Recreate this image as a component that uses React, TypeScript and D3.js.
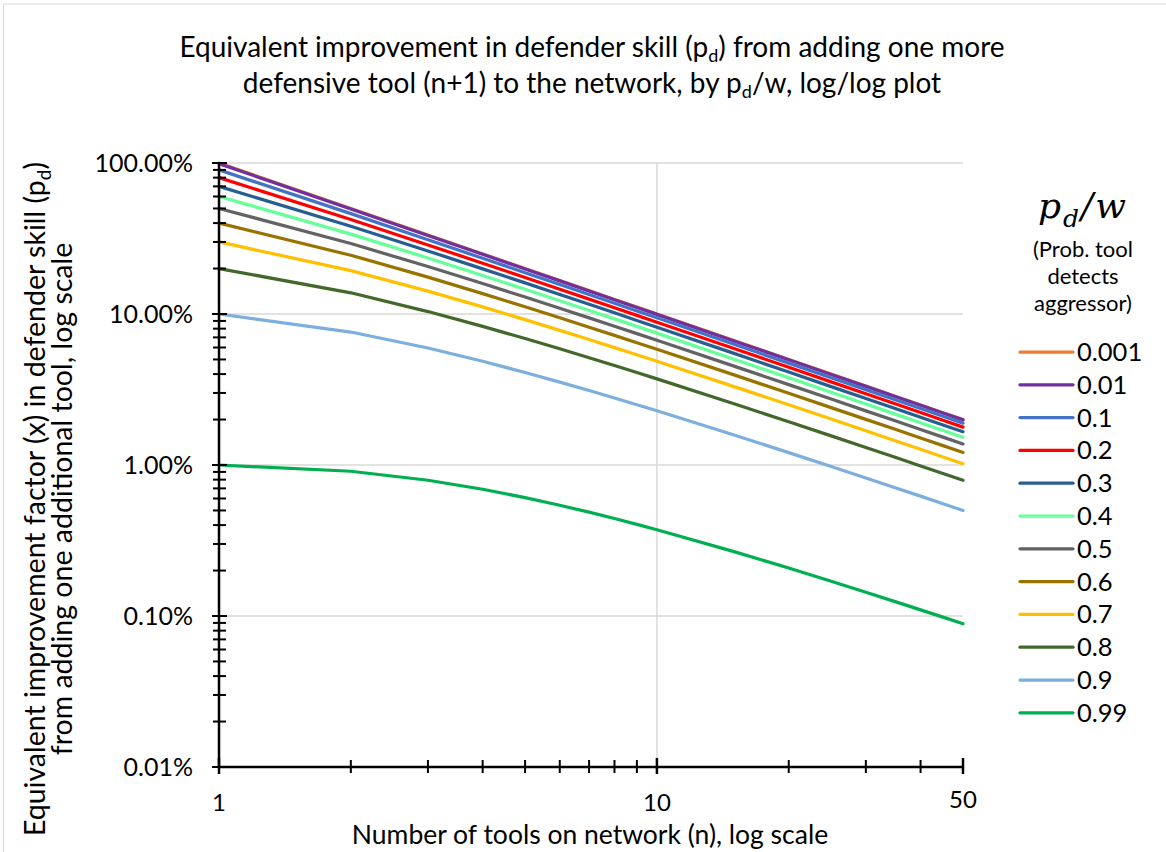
import React from "react";
import * as d3 from "d3";

// tools on network (n)
const nValues = [1, 2, 3, 4, 5, 6, 7, 8, 9, 10, 15, 20, 25, 30, 35, 40, 45, 50];

// p_d/w series, values (fraction, 1 = 100%)
const p0001 = [0.999, 0.4998, 0.3332, 0.2499, 0.1999, 0.1666, 0.1428, 0.1249, 0.1111, 0.09995, 0.0666, 0.04998, 0.03998, 0.03332, 0.02856, 0.02499, 0.02221, 0.01999];
const p001 = [0.99, 0.4962, 0.3311, 0.2484, 0.1988, 0.1657, 0.142, 0.1243, 0.1105, 0.09945, 0.06631, 0.04974, 0.03979, 0.03316, 0.02842, 0.02487, 0.02211, 0.0199];
const p01 = [0.9, 0.4618, 0.3106, 0.234, 0.1877, 0.1567, 0.1345, 0.1178, 0.1048, 0.09433, 0.06299, 0.04729, 0.03785, 0.03155, 0.02705, 0.02367, 0.02105, 0.01894];
const p02 = [0.8, 0.4223, 0.2867, 0.217, 0.1746, 0.146, 0.1255, 0.11, 0.09796, 0.08827, 0.05906, 0.04438, 0.03554, 0.02964, 0.02542, 0.02225, 0.01979, 0.01781];
const p03 = [0.7, 0.3811, 0.2616, 0.1991, 0.1607, 0.1347, 0.1159, 0.1018, 0.09066, 0.08176, 0.05483, 0.04124, 0.03305, 0.02758, 0.02366, 0.02071, 0.01842, 0.01659];
const p04 = [0.6, 0.3381, 0.2349, 0.1798, 0.1457, 0.1224, 0.1056, 0.09279, 0.08277, 0.0747, 0.05022, 0.03783, 0.03034, 0.02532, 0.02173, 0.01903, 0.01693, 0.01525];
const p05 = [0.5, 0.2929, 0.2063, 0.1591, 0.1295, 0.1091, 0.09428, 0.083, 0.07412, 0.06697, 0.04516, 0.03406, 0.02735, 0.02284, 0.01961, 0.01718, 0.01529, 0.01377];
const p06 = [0.4, 0.245, 0.1755, 0.1365, 0.1116, 0.09442, 0.0818, 0.07215, 0.06453, 0.05837, 0.03951, 0.02985, 0.02399, 0.02005, 0.01723, 0.0151, 0.01344, 0.01211];
const p07 = [0.3, 0.1938, 0.1417, 0.1114, 0.09171, 0.07792, 0.06772, 0.05988, 0.05366, 0.04861, 0.03306, 0.02504, 0.02015, 0.01686, 0.01449, 0.01271, 0.01131, 0.0102];
const p08 = [0.2, 0.1382, 0.1038, 0.08282, 0.06881, 0.05882, 0.05135, 0.04556, 0.04094, 0.03717, 0.02544, 0.01933, 0.01559, 0.01306, 0.01124, 0.00986, 0.00878, 0.00792];
const p09 = [0.1, 0.07597, 0.05954, 0.04863, 0.041, 0.03541, 0.03115, 0.02779, 0.02508, 0.02285, 0.01581, 0.01208, 0.00978, 0.00821, 0.00707, 0.00622, 0.00554, 0.005];
const p099 = [0.01, 0.009091, 0.007925, 0.006907, 0.00608, 0.005413, 0.004869, 0.004421, 0.004046, 0.003728, 0.00267, 0.002078, 0.001699, 0.001437, 0.001245, 0.001098, 0.000983, 0.000889];

const seriesNames = ["0.001", "0.01", "0.1", "0.2", "0.3", "0.4", "0.5", "0.6", "0.7", "0.8", "0.9", "0.99"];
const seriesValues = [p0001, p001, p01, p02, p03, p04, p05, p06, p07, p08, p09, p099];
const seriesColors = ["#ED7D31", "#7030A0", "#4472C4", "#FF0000", "#255E91", "#66FF99", "#636363", "#997300", "#FFC000", "#43682B", "#7CAFDD", "#00B050"];

const yTickValues = [1, 0.1, 0.01, 0.001, 0.0001];
const yTickLabels = ["100.00%", "10.00%", "1.00%", "0.10%", "0.01%"];
const xTickValues = [1, 10, 50];
const xTickLabels = ["1", "10", "50"];
const xMinorTicks = [2, 3, 4, 5, 6, 7, 8, 9, 20, 30, 40];

const FONT = "Lato, 'Open Sans', sans-serif";

export default function App() {
  const width = 1166;
  const height = 852;
  const left = 219, right = 963, top = 163, bottom = 767;

  const x = d3.scaleLog().domain([1, 50]).range([left, right]);
  const y = d3.scaleLog().domain([0.0001, 1]).range([bottom, top]);

  const line = d3
    .line<[number, number]>()
    .x((d) => x(d[0]))
    .y((d) => y(d[1]));

  const yMinor: number[] = [];
  [-4, -3, -2, -1].forEach((k) => {
    for (let m = 2; m <= 9; m++) yMinor.push(m * Math.pow(10, k));
  });

  return (
    <svg width={width} height={height} style={{ position: "absolute", left: 0, top: 0, background: "#fff" }} fontFamily={FONT}>
      <rect x={0} y={0} width={width} height={height} fill="#fff" />
      <line x1={3.5} y1={4} x2={width} y2={4} stroke="#d9d9d9" strokeWidth={1} />
      <line x1={3.5} y1={4} x2={3.5} y2={height} stroke="#d9d9d9" strokeWidth={1} />

      {/* title */}
      <text x={592} y={57} textAnchor="middle" fontSize={28}>
        Equivalent improvement in defender skill (p
        <tspan dy={5} fontSize={18}>d</tspan>
        <tspan dy={-5}>) from adding one more</tspan>
      </text>
      <text x={592} y={93} textAnchor="middle" fontSize={28}>
        defensive tool (n+1) to the network, by p
        <tspan dy={5} fontSize={18}>d</tspan>
        <tspan dy={-5}>/w, log/log plot</tspan>
      </text>

      {/* gridlines */}
      {yTickValues.slice(0, 4).map((v) => (
        <line key={"gy" + v} x1={left} x2={right} y1={y(v)} y2={y(v)} stroke="#d9d9d9" strokeWidth={1.5} />
      ))}
      <line x1={x(10)} x2={x(10)} y1={top} y2={bottom} stroke="#d9d9d9" strokeWidth={1.5} />

      {/* series */}
      {seriesValues.map((vals, i) => (
        <path
          key={seriesNames[i]}
          d={line(nValues.map((n, j) => [n, vals[j]] as [number, number])) || ""}
          fill="none"
          stroke={seriesColors[i]}
          strokeWidth={3.25}
          strokeLinejoin="round"
          strokeLinecap="round"
        />
      ))}

      {/* y axis */}
      <line x1={left} x2={left} y1={top} y2={bottom} stroke="#000" strokeWidth={2.5} />
      {yTickValues.map((v) => (
        <line key={"yt" + v} x1={left - 7} x2={left + 8} y1={y(v)} y2={y(v)} stroke="#000" strokeWidth={2} />
      ))}
      {yMinor.map((v) => (
        <line key={"ym" + v} x1={left - 6} x2={left + 7} y1={y(v)} y2={y(v)} stroke="#000" strokeWidth={2} />
      ))}
      {yTickValues.map((v, i) => (
        <text key={"yl" + v} x={193} y={y(v) + 9} textAnchor="end" fontSize={25}>
          {yTickLabels[i]}
        </text>
      ))}

      {/* x axis */}
      <line x1={left} x2={right} y1={bottom} y2={bottom} stroke="#000" strokeWidth={2.5} />
      {xTickValues.map((v) => (
        <line key={"xt" + v} x1={x(v)} x2={x(v)} y1={bottom - 9} y2={bottom + 7} stroke="#000" strokeWidth={2.5} />
      ))}
      {xMinorTicks.map((v) => (
        <line key={"xm" + v} x1={x(v)} x2={x(v)} y1={bottom - 7} y2={bottom + 6} stroke="#000" strokeWidth={2} />
      ))}
      {xTickValues.map((v, i) => (
        <text key={"xl" + v} x={x(v)} y={i === 2 ? 808 : 811} textAnchor="middle" fontSize={24}>
          {xTickLabels[i]}
        </text>
      ))}

      {/* axis titles */}
      <text x={590} y={844} textAnchor="middle" fontSize={26.5}>
        Number of tools on network (n), log scale
      </text>
      <g transform="translate(45,499) rotate(-90)">
        <text x={0} y={0} textAnchor="middle" fontSize={28.5}>
          Equivalent improvement factor (x) in defender skill (p
          <tspan dy={6} fontSize={19}>d</tspan>
          <tspan dy={-6}>)</tspan>
        </text>
      </g>
      <g transform="translate(72,499) rotate(-90)">
        <text x={0} y={0} textAnchor="middle" fontSize={28.5}>
          from adding one additional tool, log scale
        </text>
      </g>

      {/* legend */}
      <text x={1083} y={218} textAnchor="middle" fontSize={36} fontFamily="'DejaVu Serif', 'Liberation Serif', serif" fontStyle="italic" letterSpacing={2}>
        p
        <tspan dy={9} fontSize={25}>d</tspan>
        <tspan dy={-9}>/w</tspan>
      </text>
      <text x={1083} y={257} textAnchor="middle" fontSize={22}>(Prob. tool</text>
      <text x={1083} y={284} textAnchor="middle" fontSize={22}>detects</text>
      <text x={1083} y={311} textAnchor="middle" fontSize={22}>aggressor)</text>
      {seriesNames.map((name, i) => {
        const ly = 352 + i * 32.8;
        return (
          <g key={"lg" + name}>
            <line x1={1020} x2={1073} y1={ly} y2={ly} stroke={seriesColors[i]} strokeWidth={3.25} strokeLinecap="round" />
            <text x={1077} y={ly + 9} fontSize={25.5}>
              {name}
            </text>
          </g>
        );
      })}
    </svg>
  );
}
